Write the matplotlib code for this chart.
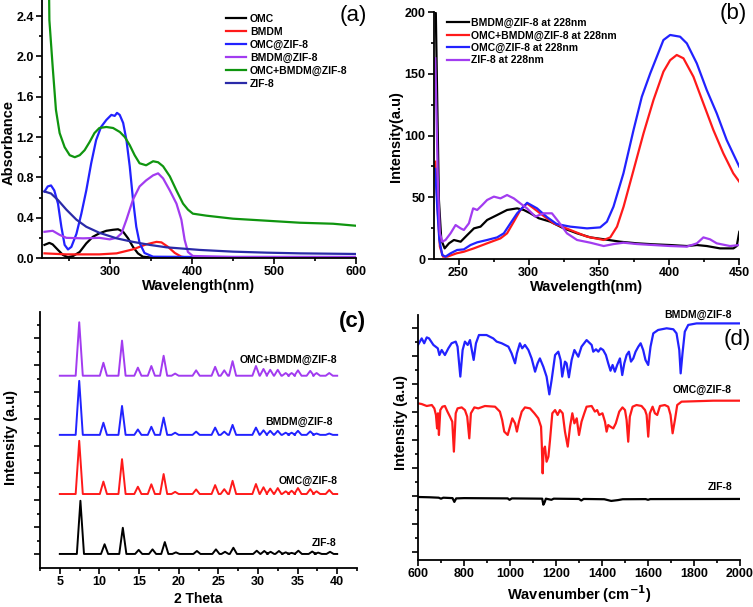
import matplotlib
matplotlib.use('Agg')
import matplotlib.pyplot as plt
from matplotlib.ticker import MultipleLocator, FixedLocator, NullFormatter

plt.rcParams['font.family'] = ['Liberation Sans', 'DejaVu Sans']
plt.rcParams['font.weight'] = 'bold'

W, H = 753, 607

# ---------- (a) UV-vis absorbance ----------
omc_x = [220, 226, 230, 236.5, 242.6, 248.7, 255, 263, 271, 279, 287, 295.5, 303.7, 309.8, 316, 322, 328, 334, 340, 352.5, 600]
omc_y = [0.13, 0.15, 0.135, 0.08, 0.03, 0.007, 0.02, 0.06, 0.145, 0.21, 0.245, 0.27, 0.28, 0.285, 0.26, 0.195, 0.11, 0.046, 0.013, 0.003, 0.003]
bmdm_x = [220, 246.7, 287, 308, 328, 344, 356.6, 362.7, 370.8, 379, 387, 397, 600]
bmdm_y = [0.046, 0.036, 0.036, 0.046, 0.086, 0.135, 0.16, 0.155, 0.11, 0.05, 0.013, 0.0, 0.0]
omczif_x = [220, 224, 228, 232, 236.5, 240.6, 244.6, 248.7, 252.8, 259, 265, 271, 277, 283, 289, 295.5, 301.6, 305.7, 308.5, 311.8, 316, 320, 324, 328, 332, 336, 342, 352.5, 409.5, 600]
omczif_y = [0.66, 0.71, 0.72, 0.67, 0.54, 0.31, 0.13, 0.085, 0.11, 0.24, 0.44, 0.67, 0.94, 1.17, 1.30, 1.37, 1.42, 1.41, 1.44, 1.42, 1.34, 1.17, 0.91, 0.58, 0.31, 0.15, 0.05, 0.013, 0.01, 0.01]
bmdmzif_x = [220, 230, 238.5, 246.7, 267, 287, 299.6, 308, 314, 320, 328, 336, 344, 352.5, 358.6, 364.7, 372.9, 381, 387, 391, 395, 401, 450, 600]
bmdmzif_y = [0.26, 0.27, 0.23, 0.2, 0.195, 0.2, 0.185, 0.2, 0.245, 0.38, 0.58, 0.71, 0.77, 0.82, 0.84, 0.79, 0.67, 0.54, 0.38, 0.18, 0.06, 0.02, 0.01, 0.01]
both_x = [225.5, 226, 230, 234, 238.5, 244.6, 250.8, 257, 263, 269, 275, 281, 287, 295.5, 303.7, 312, 318, 324, 330, 336, 344, 352.5, 358.6, 364.7, 372.9, 381, 389, 395, 401, 417.6, 450, 491, 531.6, 572, 600]
both_y = [2.7, 2.36, 1.9, 1.47, 1.24, 1.10, 1.02, 1.0, 1.02, 1.07, 1.15, 1.24, 1.29, 1.30, 1.29, 1.25, 1.20, 1.12, 1.02, 0.94, 0.92, 0.96, 0.95, 0.91, 0.81, 0.67, 0.54, 0.48, 0.44, 0.42, 0.39, 0.37, 0.35, 0.34, 0.32]
zif_x = [220, 228, 236.5, 246.7, 259, 271, 287, 308, 328, 348.4, 368.8, 409.5, 450, 491, 532, 600]
zif_y = [0.66, 0.64, 0.575, 0.48, 0.38, 0.31, 0.25, 0.195, 0.16, 0.13, 0.106, 0.08, 0.063, 0.053, 0.046, 0.04]

# ---------- (b) photoluminescence ----------
pl_bmdm_x = [233.4, 233.8, 234.8, 236, 237.7, 240.1, 243.2, 246.7, 251.5, 256.2, 261, 265.7, 270.4, 277.5, 284.6, 291.8, 296.5, 301.2, 307.2, 315.5, 325, 334.5, 344, 353.5, 365.3, 377.2, 389, 401, 412.8, 420, 427, 436.5, 446, 448.4, 450.2]
pl_bmdm_y = [200, 199, 128.7, 47.8, 15.4, 8.6, 12.7, 15.4, 14, 19.4, 24.8, 26.2, 31.6, 35.6, 39.7, 41, 39.7, 37, 33, 30.2, 24.8, 20.8, 17.5, 16, 14, 12.7, 11.9, 11.3, 10.5, 11.3, 10.5, 8.6, 8.6, 10.5, 22]
pl_both_x = [233.4, 235.3, 236.7, 238.9, 242, 248.6, 253.8, 260.9, 270.4, 279.9, 284.6, 289.4, 294.1, 298.8, 303.6, 310.7, 317.8, 329.7, 341.6, 353.5, 358.2, 363, 367.7, 374.8, 381.9, 389, 396.1, 400.9, 405.6, 410.4, 417.5, 424.6, 431.7, 438.8, 445.9, 450.2]
pl_both_y = [78.8, 37, 10, 1.9, 1.9, 4.6, 5.9, 8.6, 12.7, 16.7, 20.8, 30.2, 39.7, 45, 41, 34.8, 28.9, 23.5, 18.1, 15.4, 17.5, 26.2, 42.4, 72, 101.7, 128.7, 151.7, 161, 165.2, 162.5, 147.6, 126, 104.5, 85.6, 69.4, 62.6]
pl_omc_x = [233.4, 234.8, 236.3, 238.4, 240.7, 244.3, 249, 253.8, 258.5, 263.3, 270.4, 277.5, 282.3, 287, 291.8, 298.9, 306, 313, 320, 329.7, 341.6, 351, 355.8, 360.5, 367.6, 374.8, 380.7, 386.7, 391.4, 396.1, 400.9, 408, 412.8, 419.9, 427, 434.1, 441.2, 450.2]
pl_omc_y = [73, 42, 15.4, 3.2, 1.9, 4.6, 7.3, 7.8, 11.3, 13.5, 15.4, 17.5, 20.8, 28.9, 37, 45.5, 41, 34, 28.3, 26.2, 24.8, 25.6, 30.2, 42.4, 69.4, 104.5, 131.4, 150.3, 163.8, 177.3, 181.4, 180, 174.6, 158.4, 136.8, 118, 96.4, 74.8]
pl_zif_x = [233.4, 234.3, 235.3, 236.7, 238.4, 240.7, 244.3, 247.9, 251.5, 253.8, 257.4, 260.4, 263.3, 266.9, 270.4, 275.2, 279.9, 284.6, 289.4, 294.1, 298.8, 304.8, 310.7, 316.6, 321.3, 327.3, 334.5, 344, 353.5, 360.6, 367.7, 377.2, 389, 401, 412.8, 420, 424.6, 429.4, 434.1, 443.6, 450.2]
pl_zif_y = [162.5, 115, 61, 20.8, 14, 15.4, 20.8, 27.5, 24.8, 23.5, 28.9, 41, 39.7, 43.7, 47.8, 50.5, 49.1, 51.8, 49.1, 45, 41, 34.3, 37, 37, 30.2, 20.8, 15.4, 13.2, 10.5, 12.1, 13.2, 12.1, 11.3, 10.5, 10, 12.7, 17.5, 15.9, 12.7, 10.5, 11.3]

# ---------- (c) XRD ----------
peaks_zif8 = [7.6, 10.65, 12.95, 14.95, 16.7, 18.25, 19.65, 22.3, 24.7, 25.85, 26.9, 29.85, 30.8, 31.6, 32.65, 33.5, 34.25, 35.1, 36.85, 37.6, 39.1]
peaks_comp = [7.45, 10.5, 12.85, 14.85, 16.55, 18.1, 19.55, 22.2, 24.6, 25.75, 26.8, 29.75, 30.7, 31.55, 32.5, 33.5, 34.25, 35.05, 36.6, 37.4, 39.0]
h_zif8 = [1.97, 0.36, 0.97, 0.15, 0.17, 0.44, 0.06, 0.11, 0.17, 0.08, 0.23, 0.12, 0.11, 0.08, 0.11, 0.06, 0.04, 0.12, 0.09, 0.05, 0.08]
h_omc = [1.97, 0.46, 1.29, 0.27, 0.36, 0.74, 0.08, 0.17, 0.33, 0.18, 0.49, 0.37, 0.25, 0.2, 0.22, 0.1, 0.12, 0.22, 0.18, 0.1, 0.15]
h_bmdm = [2.0, 0.45, 1.07, 0.2, 0.3, 0.64, 0.08, 0.12, 0.27, 0.12, 0.37, 0.27, 0.17, 0.15, 0.15, 0.08, 0.08, 0.15, 0.13, 0.05, 0.05]
h_both = [1.98, 0.48, 1.3, 0.3, 0.36, 0.74, 0.08, 0.2, 0.33, 0.2, 0.54, 0.36, 0.25, 0.22, 0.22, 0.1, 0.1, 0.2, 0.18, 0.1, 0.1]
xrd_base = [0.52, 2.74, 4.93, 7.12]

# ---------- (d) FTIR ----------
ir_bmdm_x = [600, 616, 627, 638, 648, 667, 686, 693, 703, 717, 732, 746, 764, 772, 784, 794, 804, 816, 826, 842, 852, 865, 898, 927, 942, 964, 993, 1007, 1022, 1030, 1043, 1053, 1065, 1080, 1094, 1109, 1120, 1130, 1145, 1159, 1171, 1181, 1196, 1210, 1220, 1227, 1239, 1246, 1256, 1268, 1280, 1297, 1311, 1333, 1355, 1362, 1374, 1384, 1394, 1405, 1417, 1427, 1437, 1446, 1456, 1466, 1478, 1488, 1497, 1507, 1517, 1526, 1536, 1546, 1558, 1568, 1579, 1589, 1601, 1611, 1623, 1644, 1681, 1710, 1724, 1736, 1742, 1750, 1760, 1775, 1811, 2000]
ir_bmdm_y = [15.36, 15.83, 15.48, 15.9, 15.83, 15.36, 15.12, 14.64, 15.0, 14.64, 15.12, 15.48, 15.6, 15.24, 13.1, 15.0, 15.6, 15.36, 15.71, 14.29, 15.48, 16.07, 16.07, 15.83, 15.6, 15.48, 15.24, 14.76, 14.05, 14.76, 15.48, 15.12, 15.36, 15.0, 14.4, 13.45, 14.05, 14.4, 13.8, 13.1, 11.83, 12.86, 14.64, 14.88, 14.29, 13.1, 14.17, 14.05, 13.05, 14.29, 15.0, 14.52, 15.24, 15.71, 15.36, 14.88, 15.05, 14.88, 15.12, 15.0, 14.64, 14.05, 13.52, 13.93, 13.45, 13.93, 14.4, 13.21, 14.05, 14.64, 14.88, 14.17, 14.4, 14.88, 15.24, 15.48, 15.0, 14.29, 13.93, 15.24, 16.19, 16.43, 16.55, 16.48, 16.19, 15.0, 13.33, 14.76, 16.31, 16.79, 16.9, 16.9]
ir_omc_x = [600, 616, 638, 660, 671, 678, 683, 687, 691, 697, 706, 717, 728, 739, 749, 756, 764, 772, 790, 804, 814, 823, 830, 845, 862, 891, 935, 956, 966, 975, 990, 1000, 1010, 1022, 1030, 1039, 1051, 1065, 1087, 1106, 1123, 1135, 1138, 1142, 1146, 1152, 1159, 1167, 1174, 1184, 1196, 1207, 1217, 1229, 1239, 1251, 1261, 1271, 1280, 1290, 1300, 1311, 1323, 1333, 1355, 1369, 1379, 1388, 1402, 1413, 1420, 1427, 1437, 1449, 1460, 1475, 1489, 1500, 1507, 1514, 1521, 1533, 1550, 1572, 1587, 1594, 1601, 1608, 1620, 1630, 1640, 1652, 1673, 1688, 1698, 1707, 1717, 1727, 1746, 1884, 2000]
ir_omc_y = [11.19, 11.14, 11.0, 11.07, 10.83, 10.36, 9.4, 10.48, 8.93, 10.71, 10.95, 11.0, 10.6, 10.24, 9.88, 7.74, 10.48, 10.83, 10.9, 10.71, 10.24, 8.69, 10.48, 10.9, 10.83, 11.0, 10.95, 10.6, 10.0, 9.17, 8.93, 9.52, 10.12, 9.76, 9.17, 9.88, 10.6, 10.9, 10.83, 10.48, 10.12, 9.52, 8.33, 6.19, 7.86, 8.1, 7.02, 7.38, 8.57, 10.48, 10.71, 10.36, 10.71, 10.48, 9.17, 8.1, 9.52, 10.48, 9.76, 10.12, 8.93, 9.88, 10.48, 10.95, 11.0, 10.6, 10.71, 10.36, 10.48, 9.88, 9.17, 9.64, 9.52, 9.4, 9.76, 10.6, 10.9, 10.71, 10.0, 8.45, 10.24, 10.95, 11.07, 11.0, 10.71, 10.36, 8.81, 10.48, 10.95, 10.48, 10.36, 11.0, 11.07, 10.95, 10.36, 9.05, 10.0, 11.07, 11.31, 11.38, 11.38]
ir_zif_x = [600, 650, 690, 700, 710, 750, 758, 766, 800, 990, 998, 1008, 1140, 1145, 1150, 1156, 1180, 1190, 1300, 1310, 1320, 1410, 1440, 1470, 1490, 1590, 1600, 1610, 2000]
ir_zif_y = [4.50, 4.48, 4.45, 4.38, 4.45, 4.42, 4.15, 4.4, 4.42, 4.4, 4.3, 4.4, 4.38, 3.95, 4.1, 4.38, 4.3, 4.38, 4.36, 4.25, 4.36, 4.34, 4.22, 4.28, 4.34, 4.35, 4.3, 4.35, 4.36]


def rect(l, t, r, b):
    return [l / W, 1 - b / H, (r - l) / W, (b - t) / H]


def style(ax):
    for s in ['top', 'right']:
        ax.spines[s].set_visible(False)
    for s in ['left', 'bottom']:
        ax.spines[s].set_linewidth(1.3)
    ax.tick_params(which='both', direction='out', width=1.2, labelsize=9, pad=2)
    ax.tick_params(which='major', length=4)
    ax.tick_params(which='minor', length=2.5)
    for lab in ax.get_xticklabels() + ax.get_yticklabels():
        lab.set_fontweight('bold')


fig = plt.figure(figsize=(W / 100, H / 100), dpi=100)
lw = 1.6
lab_fs = 10.5

# (a)
ax = fig.add_axes(rect(42, 0, 356, 258))
ax.plot(omc_x, omc_y, color='black', lw=lw, label='OMC')
ax.plot(bmdm_x, bmdm_y, color='#ff1a1a', lw=lw, label='BMDM')
ax.plot(omczif_x, omczif_y, color='#2222ff', lw=lw, label='OMC@ZIF-8')
ax.plot(bmdmzif_x, bmdmzif_y, color='#a23cf0', lw=lw, label='BMDM@ZIF-8')
ax.plot(both_x, both_y, color='#0f950f', lw=lw, label='OMC+BMDM@ZIF-8')
ax.plot(zif_x, zif_y, color='#2a2aa8', lw=lw, label='ZIF-8')
ax.set_xlim(217, 600)
ax.set_ylim(0, 2.56)
ax.set_yticks([0.0, 0.4, 0.8, 1.2, 1.6, 2.0, 2.4])
ax.set_yticklabels(['0.0', '0.4', '0.8', '1.2', '1.6', '2.0', '2.4'])
ax.set_xticks([300, 400, 500, 600])
ax.xaxis.set_minor_locator(FixedLocator([250, 350, 450, 550]))
ax.yaxis.set_minor_locator(MultipleLocator(0.2))
ax.set_xlabel('Wavelength(nm)', fontsize=lab_fs, fontweight='bold')
ax.set_ylabel('Absorbance', fontsize=lab_fs, fontweight='bold')
ax.xaxis.set_label_coords(0.5, -0.081)
ax.yaxis.set_label_coords(-0.083, 0.446)
style(ax)
ax.legend(loc='upper left', bbox_to_anchor=(226 / W, 1 - 14 / H), bbox_transform=fig.transFigure,
          frameon=False, prop={'size': 7.5, 'weight': 'bold'}, handlelength=1.9, handletextpad=0.4,
          labelspacing=0.28, borderpad=0, borderaxespad=0)
fig.text(353 / W, 1 - 15 / H, '(a)', fontsize=16, fontweight='normal', ha='center', va='center')

# (b)
ax = fig.add_axes(rect(434, 12, 739, 259))
ax.plot(pl_bmdm_x, pl_bmdm_y, color='black', lw=lw, label='BMDM@ZIF-8 at 228nm')
ax.plot(pl_both_x, pl_both_y, color='#ff1a1a', lw=lw, label='OMC+BMDM@ZIF-8 at 228nm')
ax.plot(pl_omc_x, pl_omc_y, color='#2222ff', lw=lw, label='OMC@ZIF-8 at 228nm')
ax.plot(pl_zif_x, pl_zif_y, color='#a23cf0', lw=lw, label='ZIF-8 at 228nm')
ax.set_xlim(232.5, 450)
ax.set_ylim(0, 200)
ax.set_xticks([250, 300, 350, 400, 450])
ax.set_yticks([0, 50, 100, 150, 200])
ax.xaxis.set_minor_locator(MultipleLocator(25))
ax.yaxis.set_minor_locator(MultipleLocator(25))
ax.set_xlabel('Wavelength(nm)', fontsize=lab_fs, fontweight='bold')
ax.set_ylabel('Intensity(a.u)', fontsize=lab_fs, fontweight='bold')
ax.xaxis.set_label_coords(0.5, -0.085)
ax.yaxis.set_label_coords(-0.102, 0.494)
style(ax)
ax.legend(loc='upper left', bbox_to_anchor=(447 / W, 1 - 18 / H), bbox_transform=fig.transFigure,
          frameon=False, prop={'size': 7.5, 'weight': 'bold'}, handlelength=2.1, handletextpad=0.2,
          labelspacing=0.22, borderpad=0, borderaxespad=0)
fig.text(733 / W, 1 - 13 / H, '(b)', fontsize=16, fontweight='normal', ha='center', va='center')

# (c)
ax = fig.add_axes(rect(40, 312, 357, 568))
xrd_sets = [(peaks_zif8, h_zif8, 'black'),
            (peaks_comp, h_omc, '#ff1a1a'),
            (peaks_comp, h_bmdm, '#2222ff'),
            (peaks_comp, h_both, '#a23cf0')]
for (pk, hh, col), b in zip(xrd_sets, xrd_base):
    xs = [5.0]
    ys = [b]
    for p, h in zip(pk, hh):
        xs += [p - 0.45, p, p + 0.45]
        ys += [b, b + h, b]
    xs.append(40.0)
    ys.append(b)
    ax.plot(xs, ys, color=col, lw=1.4)
ax.set_xlim(2.5, 42.5)
ax.set_ylim(0, 9.48)
ax.set_xticks([5, 10, 15, 20, 25, 30, 35, 40])
ax.xaxis.set_minor_locator(MultipleLocator(2.5))
ax.yaxis.set_major_locator(FixedLocator([0.5 + i for i in range(9)]))
ax.yaxis.set_minor_locator(FixedLocator([1.0 + i for i in range(9)]))
ax.yaxis.set_major_formatter(NullFormatter())
ax.set_xlabel('2 Theta', fontsize=10, fontweight='bold')
ax.set_ylabel('Intensity (a.u)', fontsize=lab_fs, fontweight='bold')
ax.xaxis.set_label_coords(0.5, -0.092)
ax.yaxis.set_label_coords(-0.069, 0.51)
style(ax)
for txt, px, py in [('OMC+BMDM@ZIF-8', 337, 360), ('BMDM@ZIF-8', 333, 422), ('OMC@ZIF-8', 338, 481), ('ZIF-8', 337, 543)]:
    fig.text(px / W, 1 - py / H, txt, fontsize=7.5, fontweight='bold', ha='right', va='center')
fig.text(352 / W, 1 - 322 / H, '(c)', fontsize=16, fontweight='bold', ha='center', va='center')

# (d)
ax = fig.add_axes(rect(418, 315, 740, 560))
ax.plot(ir_bmdm_x, ir_bmdm_y, color='#2222ff', lw=lw)
ax.plot(ir_omc_x, ir_omc_y, color='#ff1a1a', lw=lw)
ax.plot(ir_zif_x, ir_zif_y, color='black', lw=lw)
ax.set_xlim(600, 2000)
ax.set_ylim(0, 17.5)
ax.set_xticks([600, 800, 1000, 1200, 1400, 1600, 1800, 2000])
ax.xaxis.set_minor_locator(MultipleLocator(100))
ax.yaxis.set_major_locator(FixedLocator([0.6 + 2 * i for i in range(9)]))
ax.yaxis.set_minor_locator(FixedLocator([1.6 + 2 * i for i in range(8)]))
ax.yaxis.set_major_formatter(NullFormatter())
ax.set_xlabel('Wavenumber (cm$^{\\mathbf{-1}}$)', fontsize=lab_fs, fontweight='bold')
ax.set_ylabel('Intensity (a.u)', fontsize=lab_fs, fontweight='bold')
ax.xaxis.set_label_coords(0.5, -0.095)
ax.yaxis.set_label_coords(-0.031, 0.56)
style(ax)
for txt, px, py in [('BMDM@ZIF-8', 732, 315), ('OMC@ZIF-8', 732, 390), ('ZIF-8', 733, 487)]:
    fig.text(px / W, 1 - py / H, txt, fontsize=7.5, fontweight='bold', ha='right', va='center')
fig.text(737 / W, 1 - 339 / H, '(d)', fontsize=16, fontweight='normal', ha='center', va='center')

fig.savefig('out.png', dpi=100)
